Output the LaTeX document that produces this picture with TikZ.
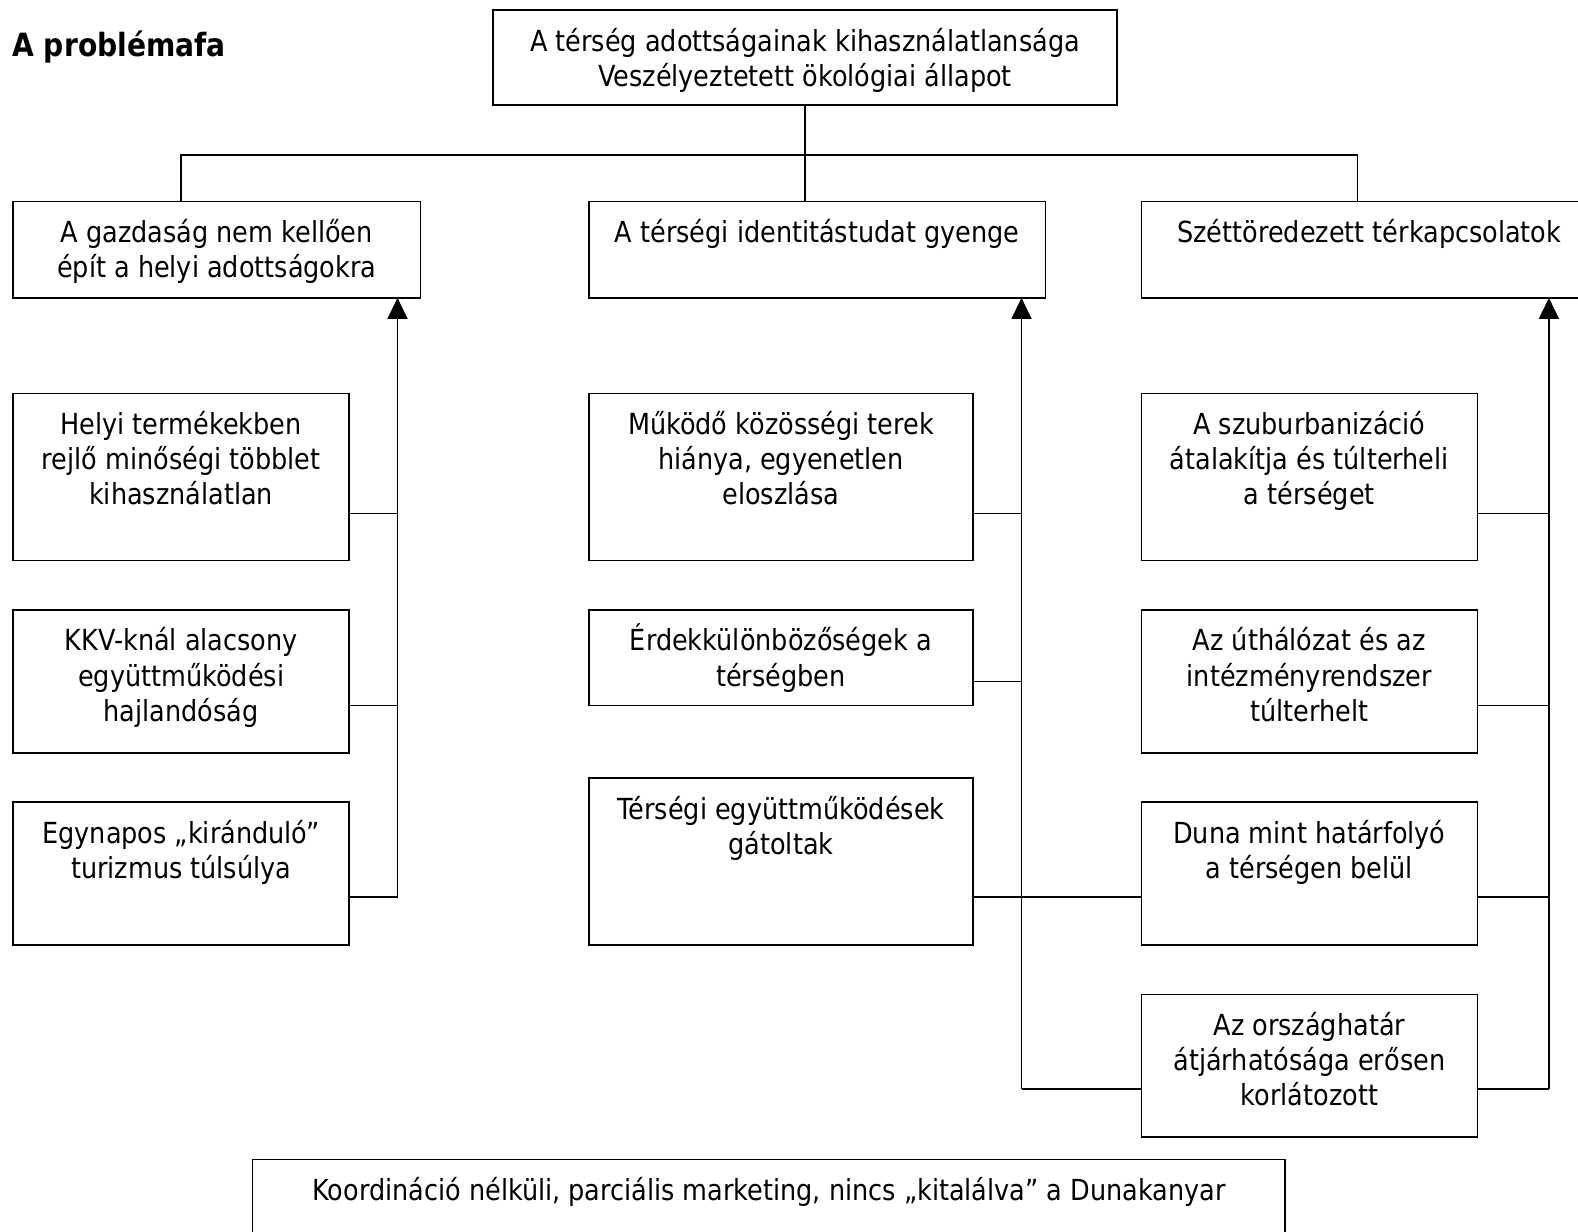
\documentclass[tikz,border=0pt]{standalone}
\usepackage{fontspec}
\setmainfont{DejaVu Sans}[FakeStretch=0.88]
\usetikzlibrary{arrows.meta}
\newdimen\upx \upx=0.5pt
\newcommand{\bxt}[3]{\parbox[c][#2\upx][t]{#1\upx}{\centering\fontsize{14.5pt}{17.6pt}\selectfont\rule{0pt}{20.5pt}#3\par}}
\begin{document}
\begin{tikzpicture}[x=0.5pt,y=-0.5pt,
  box/.style={draw,line width=0.8pt,inner sep=0pt,outer sep=0pt,anchor=north west},
  conn/.style={line width=0.8pt},
  arr/.style={conn,-{Triangle[length=10.5pt,width=10pt]}}]
\useasboundingbox (0,0) rectangle (1578,1231);
\clip (0,0) rectangle (1578,1231);
\node[anchor=west,inner sep=0pt,font=\bfseries\fontsize{16pt}{18pt}\selectfont] (title) at (12,47) {A problémafa};
\node[box] (T) at (493,10) {\bxt{624}{95}{A térség adottságainak kihasználatlansága\\Veszélyeztetett ökológiai állapot}};
\node[box] (L) at (13,201.3) {\bxt{407.6}{96.6}{A gazdaság nem kellően\\épít a helyi adottságokra}};
\node[box] (M) at (588.7,201.3) {\bxt{456.9}{96.6}{A térségi identitástudat gyenge}};
\node[box] (R) at (1141.3,201.3) {\bxt{456}{96.6}{Széttöredezett térkapcsolatok}};
\node[box] (L1) at (13,393.5) {\bxt{336.2}{167.1}{Helyi termékekben\\rejlő minőségi többlet\\kihasználatlan}};
\node[box] (L2) at (13,609.9) {\bxt{336.2}{142.9}{KKV-knál alacsony\\együttműködési\\hajlandóság}};
\node[box] (L3) at (13,802.1) {\bxt{336.2}{142.9}{Egynapos „kiránduló”\\turizmus túlsúlya}};
\node[box] (M1) at (588.7,393.5) {\bxt{384.5}{167.1}{Működő közösségi terek\\hiánya, egyenetlen\\eloszlása}};
\node[box] (M2) at (588.7,609.9) {\bxt{384.5}{95.6}{Érdekkülönbözőségek a\\térségben}};
\node[box] (M3) at (588.7,778) {\bxt{384.5}{167}{Térségi együttműködések\\gátoltak}};
\node[box] (R1) at (1141.3,393.5) {\bxt{336.1}{167.1}{A szuburbanizáció\\átalakítja és túlterheli\\a térséget}};
\node[box] (R2) at (1141.3,609.9) {\bxt{336.1}{142.9}{Az úthálózat és az\\intézményrendszer\\túlterhelt}};
\node[box] (R3) at (1141.3,802.1) {\bxt{336.1}{142.9}{Duna mint határfolyó\\a térségen belül}};
\node[box] (R4) at (1141.3,994.3) {\bxt{336.1}{142.9}{Az országhatár\\átjárhatósága erősen\\korlátozott}};
\node[box] (B) at (252.6,1159.4) {\bxt{1032.6}{100}{Koordináció nélküli, parciális marketing, nincs „kitalálva” a Dunakanyar}};
% top connectors
\coordinate (jl) at (181,155);
\coordinate (jr) at (1357.6,155);
\draw[conn] (T.south) -- (T.south |- M.north);
\draw[conn] (jl |- L.north) -- (jl) -- (jr) -- (jr |- R.north);
% levels
\coordinate (ya) at (0,513.3);
\coordinate (yb) at (0,705.5);
\coordinate (yc) at (0,896.7);
\coordinate (ye) at (0,681.3);
% left column
\coordinate (al) at (397.5,896.7);
\draw[arr] (al) -- (al |- L.south);
\draw[conn] (L1.east |- ya) -- (al |- ya);
\draw[conn] (L2.east |- yb) -- (al |- yb);
\draw[conn] (L3.east |- yc) -- (al);
% middle column
\coordinate (am) at (1021.5,1089);
\draw[arr] (am) -- (am |- M.south);
\draw[conn] (M1.east |- ya) -- (am |- ya);
\draw[conn] (M2.east |- ye) -- (am |- ye);
\draw[conn] (M3.east |- yc) -- (R3.west |- yc);
\draw[conn] (am) -- (R4.west |- am);
% right column
\coordinate (ar) at (1548.9,1089);
\draw[arr] (ar) -- (ar |- R.south);
\draw[conn] (R1.east |- ya) -- (ar |- ya);
\draw[conn] (R2.east |- yb) -- (ar |- yb);
\draw[conn] (R3.east |- yc) -- (ar |- yc);
\draw[conn] (R4.east |- ar) -- (ar);
\end{tikzpicture}
\end{document}
